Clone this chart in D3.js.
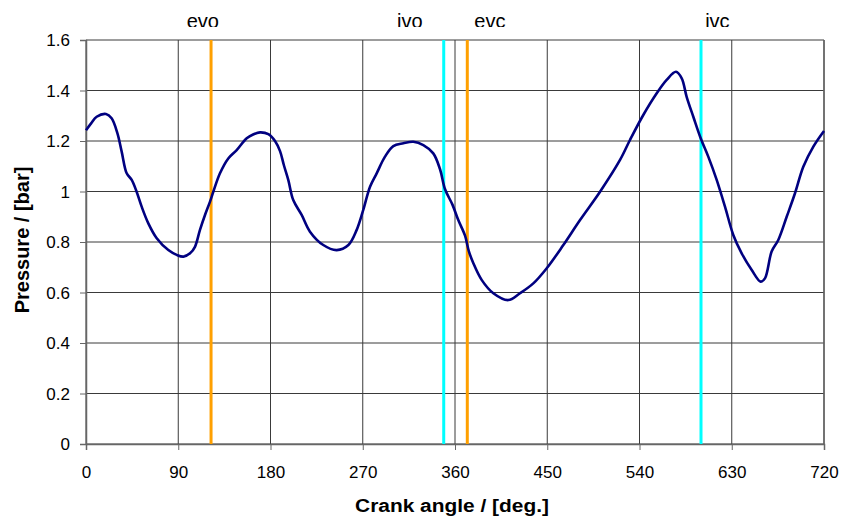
<!DOCTYPE html>
<html>
<head>
<meta charset="utf-8">
<script src="https://cdn.jsdelivr.net/npm/d3@7"></script>
<style>
  html, body { margin: 0; padding: 0; background: #fff; }
  svg { display: block; font-family: "Liberation Sans", Arial, sans-serif; }
</style>
</head>
<body>
<svg id="chart" width="841" height="520"></svg>
<script>
// Cylinder pressure over one engine cycle
const crankAngle = [0, 5, 10.4, 19.5, 25, 30.6, 34.8, 39.7, 44.6, 49.4, 54.3, 60.8, 69, 80.3, 88.5, 95,
  101.5, 106.3, 111.2, 116.1, 121, 124.2, 130.7, 138.8, 147, 156.8, 163, 169.8, 177.9, 184.4, 189.3,
  193, 197.4, 202.2, 210.4, 218.5, 231.5, 244.6, 256, 264.1, 270.5, 277.1, 283.6, 291.7, 299.8, 309.6,
  319.3, 329.1, 338.8, 345.4, 350.2, 357.6, 363.2, 369.8, 373.4, 377.9, 386, 397.4, 412, 423.4, 436.4,
  449.5, 465.7, 482, 501.5, 521, 530.7, 543.7, 556.8, 566.5, 575.6, 581.2, 586, 592.5, 599.7, 607.1,
  615.3, 623.4, 631.5, 639.7, 649.5, 658.2, 662.4, 668.9, 675.4, 683.6, 691.7, 699.8, 709.6, 720];
const pressure = [1.243, 1.27, 1.296, 1.307, 1.29, 1.231, 1.158, 1.072, 1.046, 0.999, 0.94, 0.874, 0.815, 0.768, 0.749, 0.742,
  0.755, 0.781, 0.848, 0.907, 0.96, 0.999, 1.072, 1.131, 1.164, 1.211, 1.226, 1.234, 1.227, 1.2, 1.16,
  1.105, 1.045, 0.966, 0.907, 0.841, 0.788, 0.768, 0.788, 0.848, 0.927, 1.019, 1.072, 1.138, 1.18, 1.191,
  1.197, 1.184, 1.151, 1.088, 1.01, 0.947, 0.887, 0.825, 0.765, 0.716, 0.65, 0.597, 0.57, 0.597, 0.636,
  0.696, 0.788, 0.887, 0.999, 1.125, 1.204, 1.303, 1.389, 1.442, 1.474, 1.448, 1.375, 1.296, 1.211, 1.138,
  1.046, 0.94, 0.828, 0.755, 0.689, 0.643, 0.656, 0.762, 0.808, 0.9, 0.993, 1.098, 1.178, 1.24];

// Valve events
const eventNames  = ["evo", "ivo", "evc", "ivc"];
const eventAngles = [122, 349, 372, 600];
const eventLabelAngles = [114, 316, 394, 616];
const eventKinds  = ["exhaust", "intake", "exhaust", "intake"];

// Axis ticks
const xTicks = [0, 90, 180, 270, 360, 450, 540, 630, 720];
const yTicks = [0, 0.2, 0.4, 0.6, 0.8, 1.0, 1.2, 1.4, 1.6];

const xTitle = "Crank angle / [deg.]";
const yTitle = "Pressure / [bar]";

const svg = d3.select("#chart");
const plotLeft = 86, plotRight = 824, plotTop = 40, plotBottom = 444;

const x = d3.scaleLinear().domain([0, 720]).range([plotLeft, plotRight]);
const y = d3.scaleLinear().domain([0, 1.6]).range([plotBottom, plotTop]);

const gridColor = "#3a3a3a";
const kindColor = { exhaust: "#ffa000", intake: "#00ffff" };

// grid
svg.append("g").selectAll("line").data(yTicks).join("line")
  .attr("x1", plotLeft).attr("x2", plotRight)
  .attr("y1", d => y(d)).attr("y2", d => y(d))
  .attr("stroke", gridColor).attr("stroke-width", 1);
svg.append("g").selectAll("line").data(xTicks).join("line")
  .attr("x1", d => x(d)).attr("x2", d => x(d))
  .attr("y1", plotTop).attr("y2", plotBottom)
  .attr("stroke", gridColor).attr("stroke-width", 1);

// axes
const xAxis = d3.axisBottom(x).tickValues(xTicks).tickSize(6).tickPadding(16)
  .tickFormat(d3.format("d"));
const yAxis = d3.axisLeft(y).tickValues(yTicks).tickSize(6).tickPadding(10)
  .tickFormat(d => d === 0 ? "0" : (d === 1 ? "1" : d3.format(".1f")(d)));

const gx = svg.append("g").attr("transform", `translate(0,${plotBottom})`).call(xAxis);
const gy = svg.append("g").attr("transform", `translate(${plotLeft},0)`).call(yAxis);
[gx, gy].forEach(g => {
  g.select(".domain").attr("stroke", "#666").attr("stroke-width", 1.5);
  g.selectAll(".tick line").attr("stroke", "#666");
  g.selectAll(".tick text").attr("fill", "#000")
    .style("font-family", "'Liberation Sans', Arial, sans-serif")
    .style("font-size", "17px");
});
gy.selectAll(".tick text").attr("dy", "0.35em");

// right frame edge
svg.append("line").attr("x1", plotRight).attr("x2", plotRight).attr("y1", plotTop).attr("y2", plotBottom)
  .attr("stroke", "#666").attr("stroke-width", 1.5);

// valve event lines
svg.append("g").selectAll("line").data(eventAngles).join("line")
  .attr("x1", d => x(d)).attr("x2", d => x(d))
  .attr("y1", plotTop).attr("y2", plotBottom)
  .attr("stroke", (d, i) => kindColor[eventKinds[i]])
  .attr("stroke-width", 3);

// pressure trace
const pts = crankAngle.map((a, i) => [a, pressure[i]]);
const line = d3.line().x(d => x(d[0])).y(d => y(d[1])).curve(d3.curveCatmullRom.alpha(0.5));
svg.append("path").datum(pts).attr("d", line)
  .attr("fill", "none").attr("stroke", "#000080").attr("stroke-width", 2.6)
  .attr("stroke-linejoin", "round");

// valve event labels (boxes are cropped at the bottom edge)
svg.append("clipPath").attr("id", "labelClip")
  .append("rect").attr("x", 0).attr("y", 0).attr("width", 841).attr("height", 27);
svg.append("g").attr("clip-path", "url(#labelClip)")
  .selectAll("text").data(eventNames).join("text")
  .attr("x", (d, i) => x(eventLabelAngles[i]))
  .attr("y", 28)
  .attr("text-anchor", "middle")
  .style("font-size", "20px")
  .attr("fill", "#000")
  .text(d => d);

// axis titles
svg.append("text")
  .attr("x", 452).attr("y", 512)
  .attr("text-anchor", "middle")
  .style("font-size", "19px").style("font-weight", "bold")
  .attr("transform", "translate(452,0) scale(1.1,1) translate(-452,0)")
  .text(xTitle);
svg.append("text")
  .attr("transform", "translate(29,240) rotate(-90)")
  .attr("text-anchor", "middle")
  .style("font-size", "20px").style("font-weight", "bold")
  .text(yTitle);
</script>
</body>
</html>
